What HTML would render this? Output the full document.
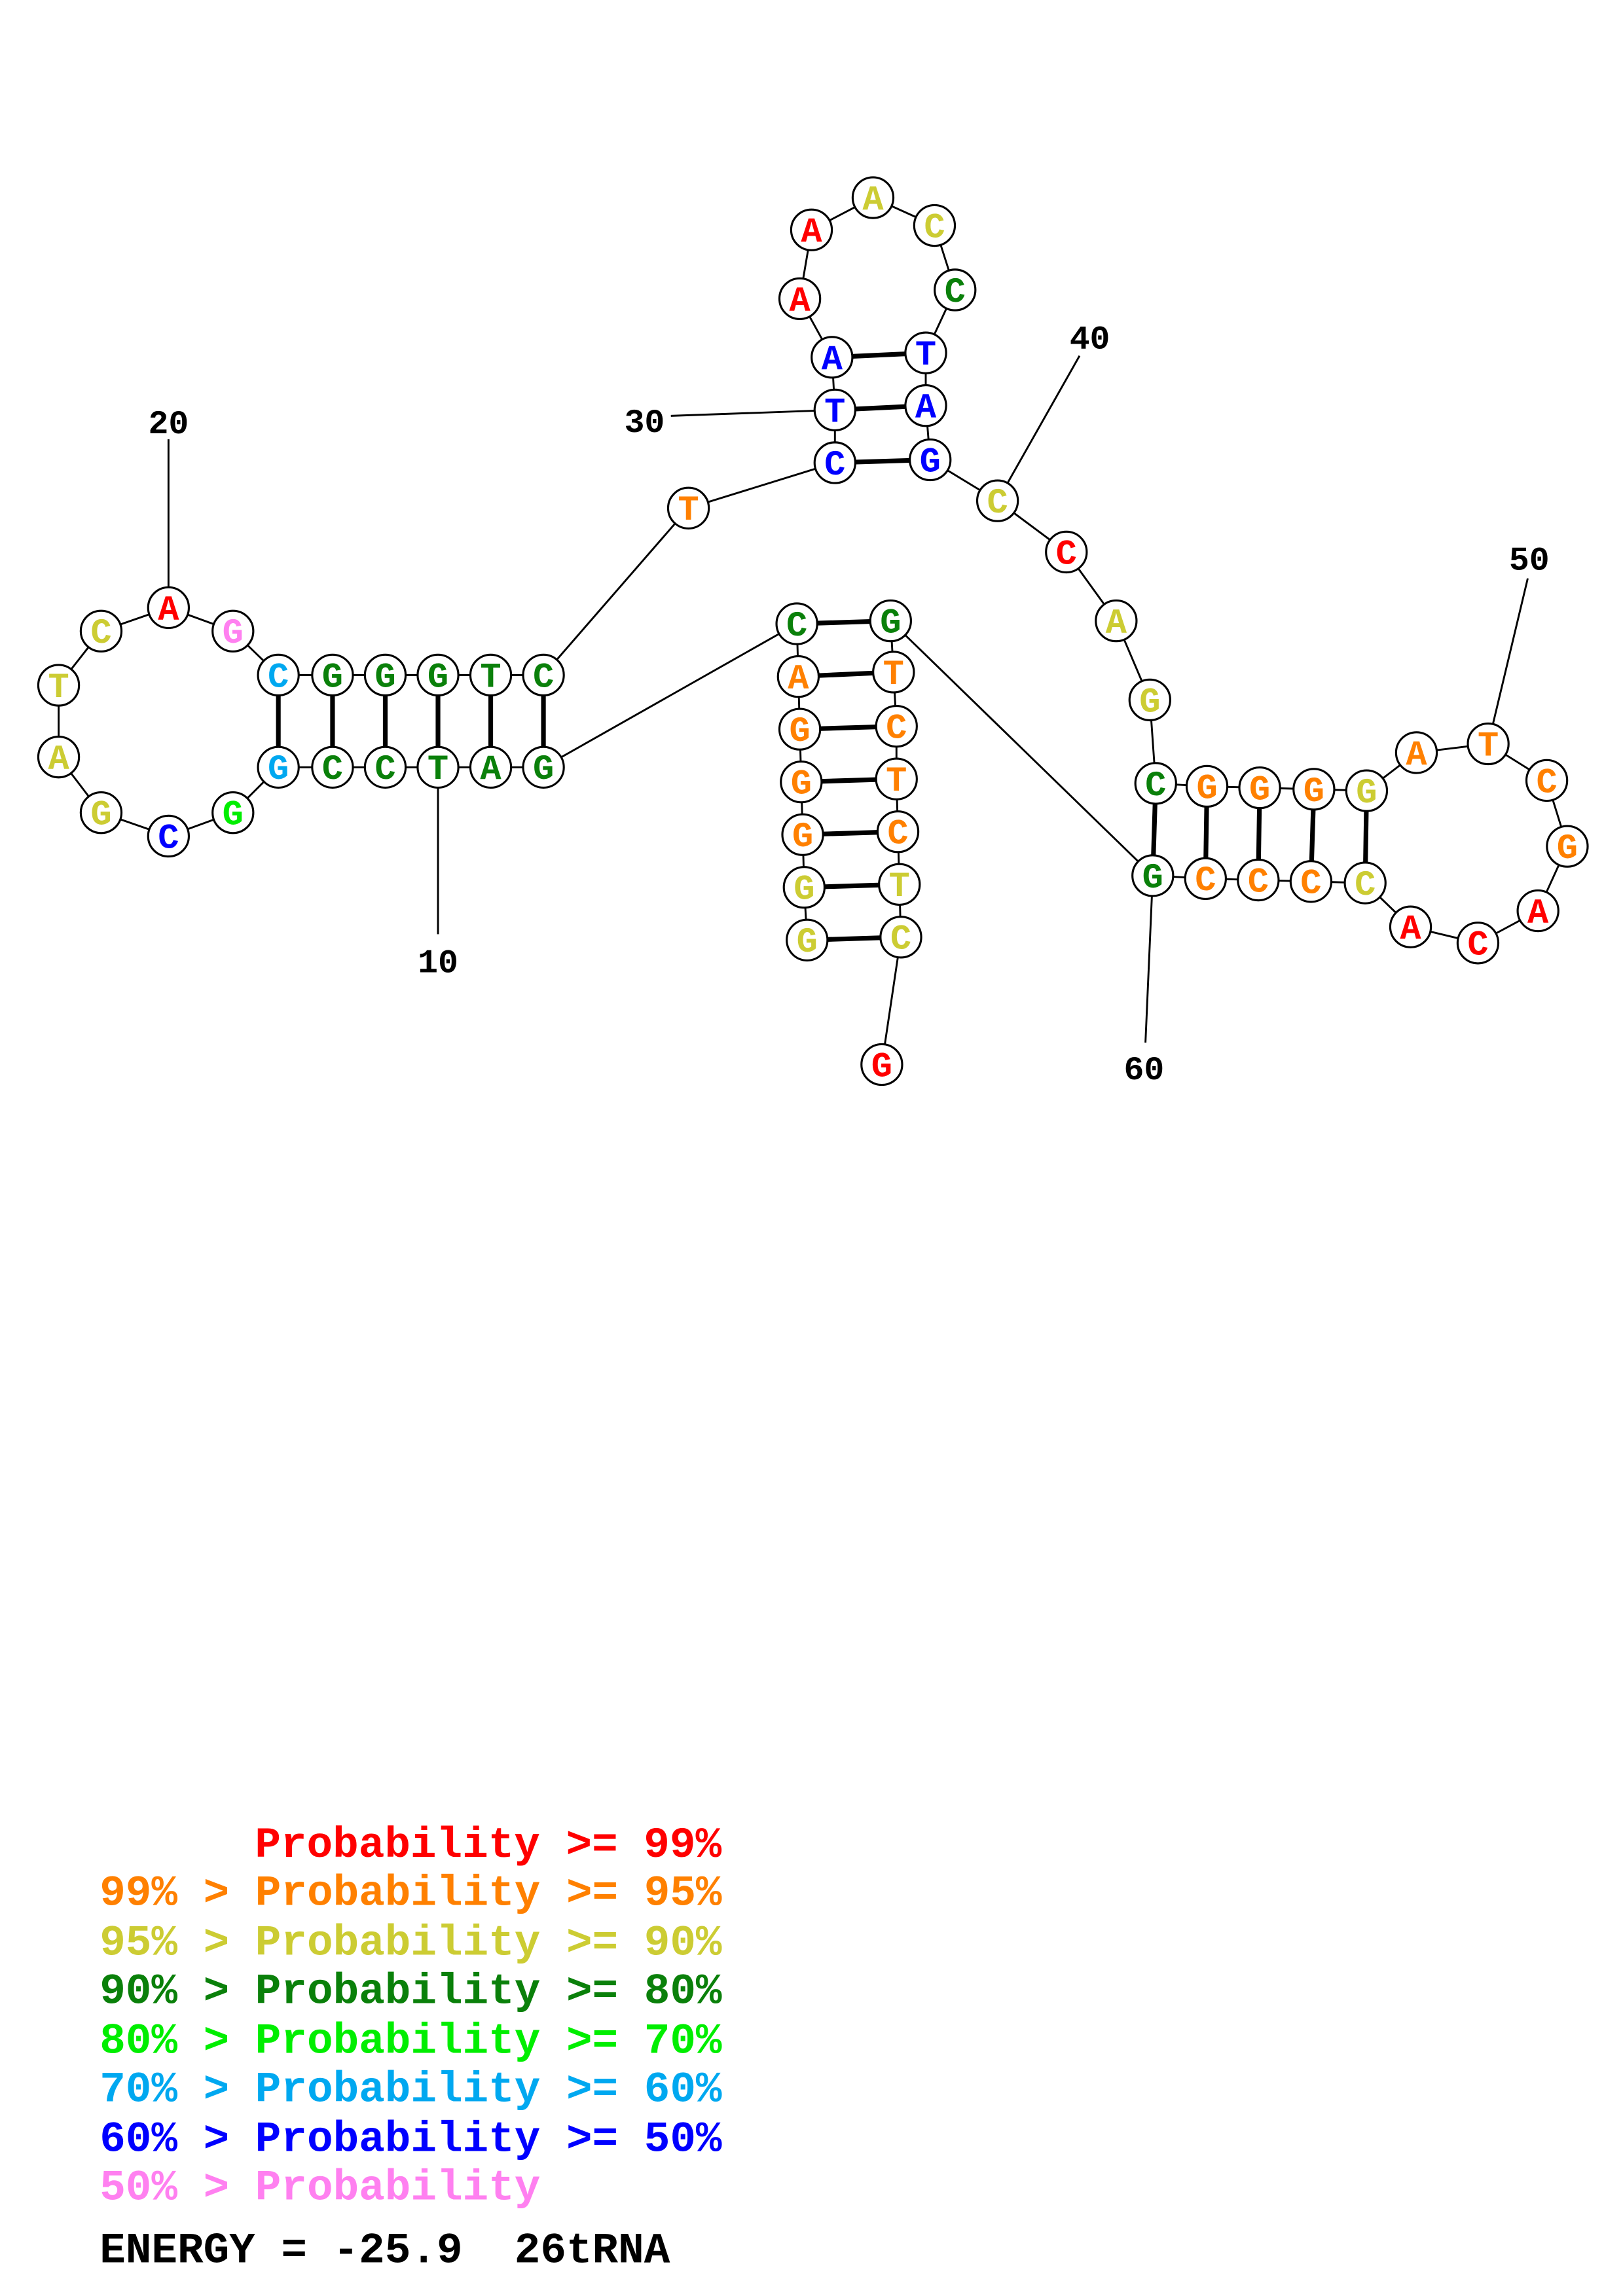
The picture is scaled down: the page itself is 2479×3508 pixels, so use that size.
<!DOCTYPE html>
<html><head><meta charset="utf-8"><style>
html,body{margin:0;padding:0;background:#fff}
svg{display:block}
.b{stroke:#000;stroke-width:1.3;fill:none}
.p{stroke:#000;stroke-width:3.2}
circle{fill:#fff;stroke:#000;stroke-width:1.4}
.n text{font-family:"Liberation Mono",monospace;font-weight:bold;font-size:24px;text-anchor:middle}
.lab{font-family:"Liberation Mono",monospace;font-weight:bold;font-size:23px;text-anchor:middle;fill:#000}
.leg text{font-family:"Liberation Mono",monospace;font-weight:bold;font-size:29.5px;white-space:pre}
</style></head><body>
<svg width="2479" height="3508" viewBox="0 0 1108 1568" xmlns="http://www.w3.org/2000/svg">
<polyline class="b" points="551,642 549,606 548,570 547,534 546,498 545,462 544,426 371,524 335,524 299,524 263,524 227,524 190,524 159,555 115,571 69,555 40,517 40,468 69,431 115,415 159,431 190,461 227,461 263,461 299,461 335,461 371,461 470,347 570,316 570,280 568,244 546,204 554,157 596,135 638,154 652,198 632,241 632,277 635,314 681,342 728,377 762,424 785,478 789,535 824,537 860,538 897,539 933,540 967,514 1016,508 1056,533 1070,578 1050,622 1009,644 963,633 932,603 895,602 859,601 823,600 787,598 608,424 610,459 612,496 612,532 613,568 614,604 615,640 602,727"/>
<line class="b" x1="299" y1="524" x2="299" y2="638"/>
<line class="b" x1="115" y1="415" x2="115" y2="300"/>
<line class="b" x1="570" y1="280" x2="458" y2="284"/>
<line class="b" x1="681" y1="342" x2="737" y2="243"/>
<line class="b" x1="1016" y1="508" x2="1043" y2="395"/>
<line class="b" x1="787" y1="598" x2="782" y2="712"/>
<g class="p">
<line x1="551" y1="642" x2="615" y2="640"/><line x1="549" y1="606" x2="614" y2="604"/>
<line x1="548" y1="570" x2="613" y2="568"/><line x1="547" y1="534" x2="612" y2="532"/>
<line x1="546" y1="498" x2="612" y2="496"/><line x1="545" y1="462" x2="610" y2="459"/>
<line x1="544" y1="426" x2="608" y2="424"/>
<line x1="190" y1="461" x2="190" y2="524"/><line x1="227" y1="461" x2="227" y2="524"/>
<line x1="263" y1="461" x2="263" y2="524"/><line x1="299" y1="461" x2="299" y2="524"/>
<line x1="335" y1="461" x2="335" y2="524"/><line x1="371" y1="461" x2="371" y2="524"/>
<line x1="570" y1="316" x2="635" y2="314"/><line x1="570" y1="280" x2="632" y2="277"/>
<line x1="568" y1="244" x2="632" y2="241"/>
<line x1="789" y1="535" x2="787" y2="598"/><line x1="824" y1="537" x2="823" y2="600"/>
<line x1="860" y1="538" x2="859" y2="601"/><line x1="897" y1="539" x2="895" y2="602"/>
<line x1="933" y1="540" x2="932" y2="603"/>
</g>
<g class="n">
<circle cx="551" cy="642" r="13.9"/><text x="551" y="650" fill="#cccc33">G</text>
<circle cx="549" cy="606" r="13.9"/><text x="549" y="614" fill="#cccc33">G</text>
<circle cx="548" cy="570" r="13.9"/><text x="548" y="578" fill="#ff8000">G</text>
<circle cx="547" cy="534" r="13.9"/><text x="547" y="542" fill="#ff8000">G</text>
<circle cx="546" cy="498" r="13.9"/><text x="546" y="506" fill="#ff8000">G</text>
<circle cx="545" cy="462" r="13.9"/><text x="545" y="470" fill="#ff8000">A</text>
<circle cx="544" cy="426" r="13.9"/><text x="544" y="434" fill="#0a800a">C</text>
<circle cx="371" cy="524" r="13.9"/><text x="371" y="532" fill="#0a800a">G</text>
<circle cx="335" cy="524" r="13.9"/><text x="335" y="532" fill="#0a800a">A</text>
<circle cx="299" cy="524" r="13.9"/><text x="299" y="532" fill="#0a800a">T</text>
<circle cx="263" cy="524" r="13.9"/><text x="263" y="532" fill="#0a800a">C</text>
<circle cx="227" cy="524" r="13.9"/><text x="227" y="532" fill="#0a800a">C</text>
<circle cx="190" cy="524" r="13.9"/><text x="190" y="532" fill="#00a8f0">G</text>
<circle cx="159" cy="555" r="13.9"/><text x="159" y="563" fill="#00ee00">G</text>
<circle cx="115" cy="571" r="13.9"/><text x="115" y="579" fill="#0000ff">C</text>
<circle cx="69" cy="555" r="13.9"/><text x="69" y="563" fill="#cccc33">G</text>
<circle cx="40" cy="517" r="13.9"/><text x="40" y="525" fill="#cccc33">A</text>
<circle cx="40" cy="468" r="13.9"/><text x="40" y="476" fill="#cccc33">T</text>
<circle cx="69" cy="431" r="13.9"/><text x="69" y="439" fill="#cccc33">C</text>
<circle cx="115" cy="415" r="13.9"/><text x="115" y="423" fill="#ff0000">A</text>
<circle cx="159" cy="431" r="13.9"/><text x="159" y="439" fill="#ff80f0">G</text>
<circle cx="190" cy="461" r="13.9"/><text x="190" y="469" fill="#00a8f0">C</text>
<circle cx="227" cy="461" r="13.9"/><text x="227" y="469" fill="#0a800a">G</text>
<circle cx="263" cy="461" r="13.9"/><text x="263" y="469" fill="#0a800a">G</text>
<circle cx="299" cy="461" r="13.9"/><text x="299" y="469" fill="#0a800a">G</text>
<circle cx="335" cy="461" r="13.9"/><text x="335" y="469" fill="#0a800a">T</text>
<circle cx="371" cy="461" r="13.9"/><text x="371" y="469" fill="#0a800a">C</text>
<circle cx="470" cy="347" r="13.9"/><text x="470" y="355" fill="#ff8000">T</text>
<circle cx="570" cy="316" r="13.9"/><text x="570" y="324" fill="#0000ff">C</text>
<circle cx="570" cy="280" r="13.9"/><text x="570" y="288" fill="#0000ff">T</text>
<circle cx="568" cy="244" r="13.9"/><text x="568" y="252" fill="#0000ff">A</text>
<circle cx="546" cy="204" r="13.9"/><text x="546" y="212" fill="#ff0000">A</text>
<circle cx="554" cy="157" r="13.9"/><text x="554" y="165" fill="#ff0000">A</text>
<circle cx="596" cy="135" r="13.9"/><text x="596" y="143" fill="#cccc33">A</text>
<circle cx="638" cy="154" r="13.9"/><text x="638" y="162" fill="#cccc33">C</text>
<circle cx="652" cy="198" r="13.9"/><text x="652" y="206" fill="#0a800a">C</text>
<circle cx="632" cy="241" r="13.9"/><text x="632" y="249" fill="#0000ff">T</text>
<circle cx="632" cy="277" r="13.9"/><text x="632" y="285" fill="#0000ff">A</text>
<circle cx="635" cy="314" r="13.9"/><text x="635" y="322" fill="#0000ff">G</text>
<circle cx="681" cy="342" r="13.9"/><text x="681" y="350" fill="#cccc33">C</text>
<circle cx="728" cy="377" r="13.9"/><text x="728" y="385" fill="#ff0000">C</text>
<circle cx="762" cy="424" r="13.9"/><text x="762" y="432" fill="#cccc33">A</text>
<circle cx="785" cy="478" r="13.9"/><text x="785" y="486" fill="#cccc33">G</text>
<circle cx="789" cy="535" r="13.9"/><text x="789" y="543" fill="#0a800a">C</text>
<circle cx="824" cy="537" r="13.9"/><text x="824" y="545" fill="#ff8000">G</text>
<circle cx="860" cy="538" r="13.9"/><text x="860" y="546" fill="#ff8000">G</text>
<circle cx="897" cy="539" r="13.9"/><text x="897" y="547" fill="#ff8000">G</text>
<circle cx="933" cy="540" r="13.9"/><text x="933" y="548" fill="#cccc33">G</text>
<circle cx="967" cy="514" r="13.9"/><text x="967" y="522" fill="#ff8000">A</text>
<circle cx="1016" cy="508" r="13.9"/><text x="1016" y="516" fill="#ff8000">T</text>
<circle cx="1056" cy="533" r="13.9"/><text x="1056" y="541" fill="#ff8000">C</text>
<circle cx="1070" cy="578" r="13.9"/><text x="1070" y="586" fill="#ff8000">G</text>
<circle cx="1050" cy="622" r="13.9"/><text x="1050" y="630" fill="#ff0000">A</text>
<circle cx="1009" cy="644" r="13.9"/><text x="1009" y="652" fill="#ff0000">C</text>
<circle cx="963" cy="633" r="13.9"/><text x="963" y="641" fill="#ff0000">A</text>
<circle cx="932" cy="603" r="13.9"/><text x="932" y="611" fill="#cccc33">C</text>
<circle cx="895" cy="602" r="13.9"/><text x="895" y="610" fill="#ff8000">C</text>
<circle cx="859" cy="601" r="13.9"/><text x="859" y="609" fill="#ff8000">C</text>
<circle cx="823" cy="600" r="13.9"/><text x="823" y="608" fill="#ff8000">C</text>
<circle cx="787" cy="598" r="13.9"/><text x="787" y="606" fill="#0a800a">G</text>
<circle cx="608" cy="424" r="13.9"/><text x="608" y="432" fill="#0a800a">G</text>
<circle cx="610" cy="459" r="13.9"/><text x="610" y="467" fill="#ff8000">T</text>
<circle cx="612" cy="496" r="13.9"/><text x="612" y="504" fill="#ff8000">C</text>
<circle cx="612" cy="532" r="13.9"/><text x="612" y="540" fill="#ff8000">T</text>
<circle cx="613" cy="568" r="13.9"/><text x="613" y="576" fill="#ff8000">C</text>
<circle cx="614" cy="604" r="13.9"/><text x="614" y="612" fill="#cccc33">T</text>
<circle cx="615" cy="640" r="13.9"/><text x="615" y="648" fill="#cccc33">C</text>
<circle cx="602" cy="727" r="13.9"/><text x="602" y="735" fill="#ff0000">G</text>
</g>
<text class="lab" x="299" y="664">10</text>
<text class="lab" x="115" y="296">20</text>
<text class="lab" x="440" y="295">30</text>
<text class="lab" x="744" y="238">40</text>
<text class="lab" x="1044" y="389">50</text>
<text class="lab" x="781" y="737">60</text>
<g class="leg">
<text xml:space="preserve" x="174" y="1268" fill="#ff0000">Probability &gt;= 99%</text>
<text xml:space="preserve" x="68" y="1301" fill="#ff8000">99% &gt; Probability &gt;= 95%</text>
<text xml:space="preserve" x="68" y="1335" fill="#cccc33">95% &gt; Probability &gt;= 90%</text>
<text xml:space="preserve" x="68" y="1368" fill="#0a800a">90% &gt; Probability &gt;= 80%</text>
<text xml:space="preserve" x="68" y="1402" fill="#00ee00">80% &gt; Probability &gt;= 70%</text>
<text xml:space="preserve" x="68" y="1435" fill="#00a8f0">70% &gt; Probability &gt;= 60%</text>
<text xml:space="preserve" x="68" y="1469" fill="#0000ff">60% &gt; Probability &gt;= 50%</text>
<text xml:space="preserve" x="68" y="1502" fill="#ff80f0">50% &gt; Probability</text>
<text xml:space="preserve" x="68" y="1545" fill="#000">ENERGY = -25.9  26tRNA</text>
</g>
</svg>
</body></html>
